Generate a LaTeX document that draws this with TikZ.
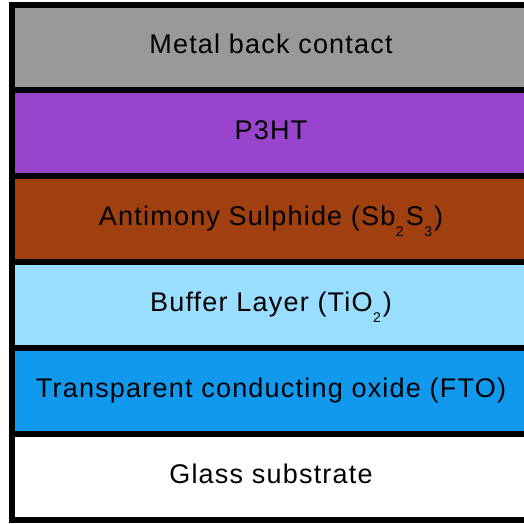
\documentclass[tikz,border=0pt]{standalone}
\usepackage{fontspec}
\setmainfont{Liberation Sans}[LetterSpace=4.5]
\usetikzlibrary{positioning}

\definecolor{metalgray}{HTML}{999999}
\definecolor{pthtpurple}{HTML}{9944CC}
\definecolor{sbsbrown}{HTML}{A04010}
\definecolor{tiolight}{HTML}{99DDFF}
\definecolor{ftoblue}{HTML}{1199EE}

\newcommand{\lsub}[1]{\kern0.5pt\raisebox{-11pt}{\fontsize{14}{14}\selectfont #1}\kern2pt}

\begin{document}
\begin{tikzpicture}[
  x=1pt, y=1pt,
  node distance=0pt,
  layer/.style={draw=black, line width=6pt, outer sep=0pt, inner sep=0pt,
                minimum width=518pt, minimum height=85.9pt, anchor=north west,
                font=\fontsize{27}{30}\selectfont, text=black,
                text height=19pt, text depth=6pt}
]
\useasboundingbox (0,0) rectangle (524,-523);
\node[layer, fill=metalgray] (metal) at (12,-4.5) {Metal back contact};
\node[layer, fill=pthtpurple, below=of metal.south west, anchor=north west] (ptht) {P3HT};
\node[layer, fill=sbsbrown, below=of ptht.south west, anchor=north west] (sbs)
  {Antimony Sulphide (Sb\lsub{2}S\lsub{3})};
\node[layer, fill=tiolight, below=of sbs.south west, anchor=north west] (buffer)
  {Buffer Layer (TiO\lsub{2})};
\node[layer, fill=ftoblue, below=of buffer.south west, anchor=north west] (fto)
  {Transparent conducting oxide (FTO)};
\node[layer, fill=white, below=of fto.south west, anchor=north west] (glass)
  {Glass substrate};
\end{tikzpicture}
\end{document}
